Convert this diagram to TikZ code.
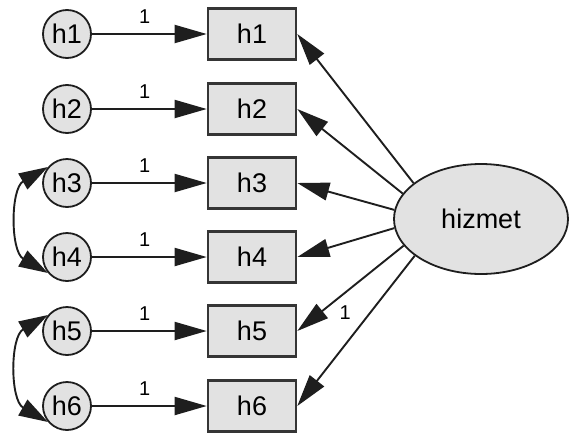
\documentclass[tikz,border=0pt]{standalone}
\usepackage{fontspec}
\setmainfont{Liberation Sans}
\usetikzlibrary{arrows.meta,shapes.geometric}
\definecolor{nodefill}{RGB}{226,226,226}
\definecolor{edge}{RGB}{30,30,30}
\tikzset{
  errc/.style={circle,draw=edge,line width=1.8pt,fill=nodefill,minimum size=48pt,inner sep=0pt,font=\fontsize{27}{30}\selectfont},
  obsbox/.style={rectangle,draw=edge!90,line width=2.6pt,fill=nodefill,minimum width=88pt,minimum height=51pt,inner sep=0pt,font=\fontsize{27}{30}\selectfont},
  latent/.style={ellipse,draw=edge,line width=1.8pt,fill=nodefill,minimum width=174pt,minimum height=110pt,inner sep=0pt,font=\fontsize{27}{30}\selectfont},
  arr/.style={line width=1.9pt,draw=edge,-{Triangle[length=32pt,width=18pt]}},
  cov/.style={line width=1.9pt,draw=edge,{Triangle[length=29pt,width=18pt]}-{Triangle[length=29pt,width=18pt]}},
  wlab/.style={font=\fontsize{20}{22}\selectfont,inner sep=0pt}
}
\begin{document}
\begin{tikzpicture}[x=1pt,y=1pt]
\useasboundingbox (0,0) rectangle (569,-434);
\foreach \i/\y in {1/34,2/109,3/183,4/257,5/331,6/406}{
  \node[errc] (e\i) at (67,-\y) {h\i};
  \node[obsbox] (o\i) at (252,-\y) {h\i};
  \draw[arr] (e\i) -- (o\i) node[wlab,pos=0.46,anchor=base,yshift=11pt] {1};
}
\node[latent] (f) at (481,-219) {hizmet};
\draw[arr] (f.152.5) -- (o1.east);
\draw[arr] (f.162) -- (o2.east);
\draw[arr] (f.174) -- (o3.east);
\draw[arr] (f.186) -- (o4.east);
\draw[arr] (f.199.5) -- (o5.east) node[wlab,pos=0.55,below=12pt] {1};
\draw[arr] (f.209) -- (o6.east);
\draw[cov] (e3.140) to[out=210,in=150,looseness=1.05] (e4.220);
\draw[cov] (e5.140) to[out=210,in=150,looseness=1.05] (e6.220);
\end{tikzpicture}
\end{document}
